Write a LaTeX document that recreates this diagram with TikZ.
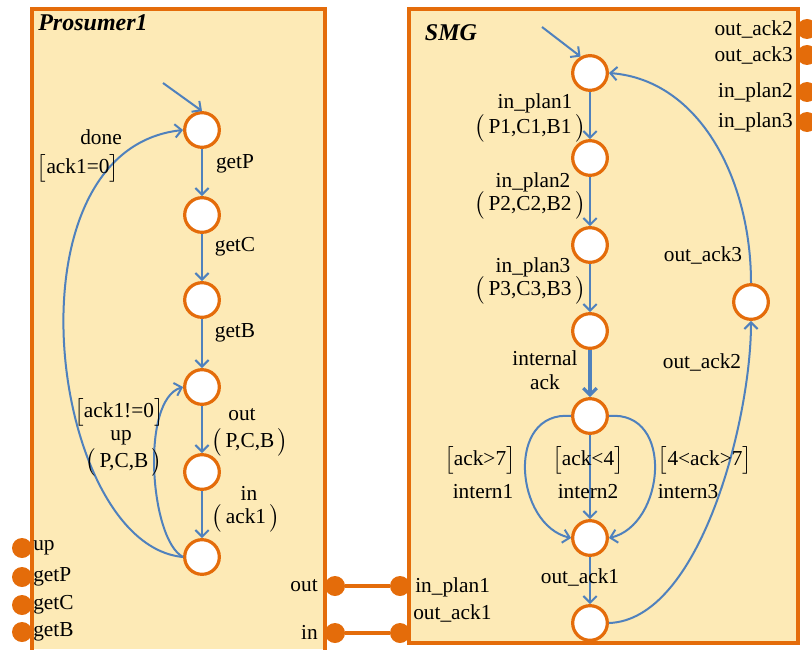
\documentclass[tikz,border=0pt]{standalone}
\usepackage{amsmath}
\usepackage{fontspec}
\setmainfont{Liberation Serif}
\usepackage{tikz}
\usetikzlibrary{arrows.meta}
\definecolor{boxfill}{RGB}{253,234,182}
\definecolor{uaorange}{RGB}{228,108,10}
\definecolor{uablue}{RGB}{79,129,189}
\newcommand{\guardtxt}[1]{$\bigl[$#1$\bigr]$}
\newcommand{\argtxt}[1]{$\bigl($\,#1\,$\bigr)$}

\begin{document}
\begin{tikzpicture}[x=0.75pt, y=-0.75pt,
  state/.style={circle, draw=uaorange, line width=2.4pt, fill=white, minimum size=26pt, inner sep=0pt},
  port/.style={circle, fill=uaorange, minimum size=15pt, inner sep=0pt},
  trans/.style={draw=uablue, line width=1.5pt, -{Straight Barb[length=5pt,width=10pt]}},
  lbl/.style={font=\fontsize{16}{18}\selectfont, inner sep=0pt},
  ttl/.style={font=\fontsize{18}{20}\selectfont\bfseries\itshape, inner sep=0pt},
  wire/.style={draw=uaorange, line width=2.4pt}]
\useasboundingbox (0,0) rectangle (812,649);
% the two automata boxes
\fill[boxfill] (32,9) rectangle (325,649);
\draw[uaorange, line width=2.4pt] (32,652) -- (32,9) -- (325,9) -- (325,652);
\fill[boxfill] (409,9) rectangle (798,643);
\draw[uaorange, line width=2.4pt] (409,9) rectangle (798,643);
\node[ttl] (ttlpro) at (93,23) {Prosumer1};
\node[ttl] (ttlsmg) at (451,33) {SMG};
% Prosumer1 states
\foreach \n/\y in {1/130,2/215,3/300,4/387,5/472,6/557}
    \node[state] (p\n) at (202,\y) {};
\coordinate (pinit) at (163,83);
\draw[trans] (pinit) -- (p1.north);
\foreach \a/\b in {1/2,2/3,3/4,4/5,5/6}
    \draw[trans] (p\a) -- (p\b);
\draw[trans] (p6.west) .. controls (50,545) and (0,150) .. (p1.west);
\draw[trans] (p6.west) .. controls (150,540) and (140,400) .. (p4.west);
\node[lbl] (lgetp) at (235,164) {getP};
\node[lbl] (lgetc) at (235,247) {getC};
\node[lbl] (lgetb) at (235,333) {getB};
\node[lbl] (lout) at (242,415) {out};
\node[lbl] (loutarg) at (250,442) {\argtxt{P,C,B}};
\node[lbl] (lin) at (249,493) {in};
\node[lbl] (linarg) at (246,518) {\argtxt{ack1}};
\node[lbl] (ldone) at (101,137) {done};
\node[lbl] (ldonegrd) at (78,168) {\guardtxt{ack1=0}};
\node[lbl] (lupgrd) at (119,412) {\guardtxt{ack1!=0}};
\node[lbl] (lup) at (121,438) {up};
\node[lbl] (luparg) at (124,462) {\argtxt{P,C,B}};
% Prosumer1 ports
\foreach \n/\y in {up/548,getP/577,getC/605,getB/632}{
    \node[port] (pp\n) at (22,\y) {};
    \node[lbl, anchor=west] (lpp\n) at (33,\y) {\n};
}
% SMG states
\foreach \n/\y in {1/73,2/158,3/245,4/331,5/416,6/538,7/623}
    \node[state] (s\n) at (590,\y) {};
\node[state] (s8) at (751,302) {};
\coordinate (sinit) at (542,27);
\draw[trans] (sinit) -- (s1.120);
\draw[trans] (s1) -- (s2);
\draw[trans] (s2) -- (s3);
\draw[trans] (s3) -- (s4);
\draw[trans, line width=2.4pt] (s4) -- (s5);
\draw[trans] (s5) -- (s6);
\draw[trans] (s6) -- (s7);
\draw[trans] (s5.west) .. controls (505,410) and (515,525) .. (s6.west);
\draw[trans] (s5.east) .. controls (675,410) and (665,525) .. (s6.east);
\draw[trans] (s7.east) .. controls (700,620) and (751,420) .. (s8.south);
\draw[trans] (s8.north) .. controls (751,180) and (700,80) .. (s1.east);
\node[lbl] (lplan1) at (535,103) {in\_plan1};
\node[lbl] (lplan1arg) at (530,128) {\argtxt{P1,C1,B1}};
\node[lbl] (lplan2) at (533,182) {in\_plan2};
\node[lbl] (lplan2arg) at (530,205) {\argtxt{P2,C2,B2}};
\node[lbl] (lplan3) at (533,267) {in\_plan3};
\node[lbl] (lplan3arg) at (530,290) {\argtxt{P3,C3,B3}};
\node[lbl, align=center] (lintack) at (545,370) {internal\\ack};
\node[lbl] (lgrd1) at (480,460) {\guardtxt{ack>7}};
\node[lbl] (lint1) at (483,492) {intern1};
\node[lbl] (lgrd2) at (588,460) {\guardtxt{ack<4}};
\node[lbl] (lint2) at (588,492) {intern2};
\node[lbl] (lgrd3) at (705,460) {\guardtxt{4<ack>7}};
\node[lbl] (lint3) at (688,492) {intern3};
\node[lbl] (lack1) at (580,577) {out\_ack1};
\node[lbl] (lack2) at (702,362) {out\_ack2};
\node[lbl] (lack3) at (703,255) {out\_ack3};
% SMG ports
\foreach \n/\y/\t in {a2/29/out\_ack2,a3/55/out\_ack3,p2/92/in\_plan2,p3/122/in\_plan3}{
    \node[port] (sp\n) at (807,\y) {};
    \node[lbl, anchor=east] (lsp\n) at (793,\y) {\t};
}
% channels between the boxes
\node[port] (ppout) at (335,586) {};
\node[port] (spplan1) at (400,586) {};
\node[port] (ppin) at (335,633) {};
\node[port] (spack1) at (400,633) {};
\draw[wire] (ppout) -- (spplan1);
\draw[wire] (ppin) -- (spack1);
\node[lbl, anchor=east] (lppout) at (318,586) {out};
\node[lbl, anchor=east] (lppin) at (318,632) {in};
\node[lbl, anchor=west] (lspplan1) at (415,587) {in\_plan1};
\node[lbl, anchor=west] (lspack1) at (413,613) {out\_ack1};
\end{tikzpicture}
\end{document}
